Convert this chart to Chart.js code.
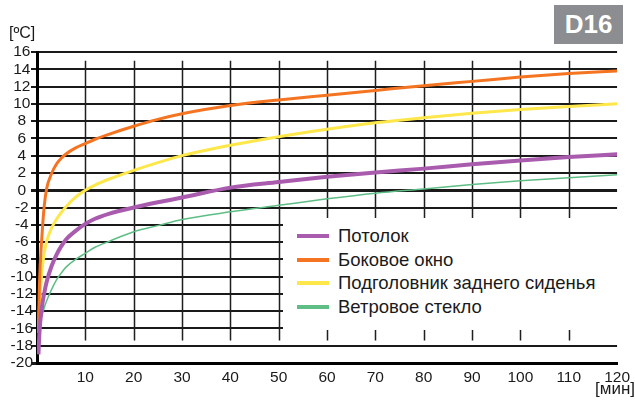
<!DOCTYPE html>
<html>
<head>
<meta charset="utf-8">
<script src="https://cdn.jsdelivr.net/npm/chart.js@4.4.0/dist/chart.umd.min.js"></script>
<style>
  html, body { margin: 0; padding: 0; background: #fff; }
  #wrap { position: relative; width: 635px; height: 401px; font-family: "Liberation Sans", Arial, sans-serif; color: #1a1a1a; }
  #chart { position: absolute; left: 0; top: 0; }
  #badge { position: absolute; left: 554px; top: 5px; width: 69px; height: 39px; background: #8b8d90; color: #fff;
           font: bold 26px "Liberation Sans", Arial, sans-serif; text-align: center; line-height: 39px; }
  #unitY { position: absolute; left: 9px; top: 24px; font-size: 16px; }
  #unitX { position: absolute; right: 0px; top: 379px; font-size: 17px; }
  #legend { position: absolute; left: 283px; top: 218px; width: 335px; height: 112px; background: #fff; }
  .item { position: absolute; left: 0; height: 23px; font-size: 18.5px; white-space: nowrap; }
  .item span.mark { position: absolute; left: 14px; top: 7px; width: 32px; height: 4px; }
  .item span.txt { position: absolute; left: 55px; top: -2px; }
</style>
</head>
<body>
<div id="wrap">
  <canvas id="chart" width="635" height="401"></canvas>
  <div id="badge">D16</div>
  <div id="unitY">[ºC]</div>
  <div id="unitX">[мин]</div>
  <div id="legend"></div>
</div>
<script>
// Данные
const minutes = [0.3, 0.5, 1, 1.5, 2, 3, 4, 5, 6, 8, 10, 12, 15, 20, 25, 30, 40, 50, 60, 70, 80, 90, 100, 110, 120];
const ceiling = [-19, -16.5, -13.6, -11.9, -10.6, -8.8, -7.5, -6.5, -5.7, -4.7, -3.9, -3.3, -2.7, -2.0, -1.4, -0.85, 0.3, 0.95, 1.55, 2.05, 2.5, 3.0, 3.45, 3.85, 4.15];
const sideWindow = [-16.5, -11, -5.5, -1.8, 0.2, 1.9, 3.0, 3.7, 4.2, 4.9, 5.4, 5.9, 6.5, 7.4, 8.2, 8.85, 9.8, 10.45, 11.0, 11.55, 12.1, 12.6, 13.1, 13.5, 13.8];
const headrest = [-16.5, -13.5, -9.5, -7.3, -5.9, -4.4, -3.4, -2.6, -1.9, -0.8, 0, 0.6, 1.3, 2.3, 3.2, 4.0, 5.2, 6.2, 7.05, 7.8, 8.4, 8.9, 9.35, 9.7, 10.0];
const windshield = [-16.3, -15.6, -14.5, -13.6, -12.8, -11.5, -10.4, -9.6, -8.9, -8.0, -7.3, -6.6, -5.9, -4.8, -4.1, -3.4, -2.5, -1.75, -1.0, -0.35, 0.15, 0.65, 1.1, 1.45, 1.8];

const seriesLabels = ['Потолок', 'Боковое окно', 'Подголовник заднего сиденья', 'Ветровое стекло'];
const xTicks = [10, 20, 30, 40, 50, 60, 70, 80, 90, 100, 110, 120];
const yMin = -20, yMax = 16, yStep = 2;

const colors = ['#a95cae', '#f47422', '#fde74a', '#5fbd86'];
const widths = [4, 3, 3, 1.5];

const allSeries = [ceiling, sideWindow, headrest, windshield];

// Легенда (HTML)
const legend = document.getElementById('legend');
seriesLabels.forEach((label, i) => {
  const div = document.createElement('div');
  div.className = 'item';
  div.style.top = (9 + i * 23.5) + 'px';
  div.innerHTML = '<span class="mark" style="background:' + colors[i] + '"></span><span class="txt">' + label + '</span>';
  legend.appendChild(div);
});

// Вертикальные линии сетки (не на всю высоту)
const partialGrid = {
  id: 'partialGrid',
  beforeDatasetsDraw(chart) {
    const { ctx, scales: { x, y } } = chart;
    ctx.save();
    ctx.strokeStyle = '#1e1e1e';
    ctx.lineWidth = 1.5;
    xTicks.forEach(t => {
      if (t >= 120) return;
      const px = Math.round(x.getPixelForValue(t)) + 0.5;
      ctx.beginPath();
      ctx.moveTo(px, y.getPixelForValue(15));
      ctx.lineTo(px, y.getPixelForValue(-17.4));
      ctx.stroke();
    });
    ctx.restore();
  }
};

const ctx = document.getElementById('chart').getContext('2d');
const chart = new Chart(ctx, {
  type: 'line',
  data: {
    datasets: allSeries.map((arr, i) => ({
      label: seriesLabels[i],
      data: minutes.map((m, k) => ({ x: m, y: arr[k] })),
      borderColor: colors[i],
      borderWidth: widths[i],
      pointRadius: 0,
      fill: false,
      cubicInterpolationMode: 'monotone'
    }))
  },
  options: {
    responsive: false,
    animation: false,
    layout: { padding: { top: 52, right: 10, bottom: 0, left: 0 } },
    plugins: {
      legend: { display: false },
      tooltip: { enabled: false }
    },
    scales: {
      x: {
        type: 'linear',
        min: 0,
        max: 120,
        afterFit: s => { s.height = 38; },
        afterBuildTicks: s => { s.ticks = [0].concat(xTicks).map(v => ({ value: v })); },
        grid: { display: false, drawTicks: false, tickLength: 0 },
        border: { display: true, color: '#000', width: 3 },
        ticks: {
          padding: 5,
          maxRotation: 0,
          autoSkip: false,
          color: '#1a1a1a',
          font: { family: '"Liberation Sans", Arial, sans-serif', size: 15.5 },
          callback: v => (v === 0 ? '' : v)
        }
      },
      y: {
        min: yMin,
        max: yMax,
        afterFit: s => { s.width = 37; },
        grid: {
          color: '#1a1a1a',
          lineWidth: c => (c.tick && (c.tick.value === 0 || c.tick.value === yMin) ? 3 : 2),
          tickLength: 6
        },
        border: { display: true, color: '#000', width: 3 },
        ticks: {
          stepSize: yStep,
          autoSkip: false,
          crossAlign: 'center',
          padding: -2,
          color: '#1a1a1a',
          font: { family: '"Liberation Sans", Arial, sans-serif', size: 15.5 }
        }
      }
    }
  },
  plugins: [partialGrid]
});
</script>
</body>
</html>
